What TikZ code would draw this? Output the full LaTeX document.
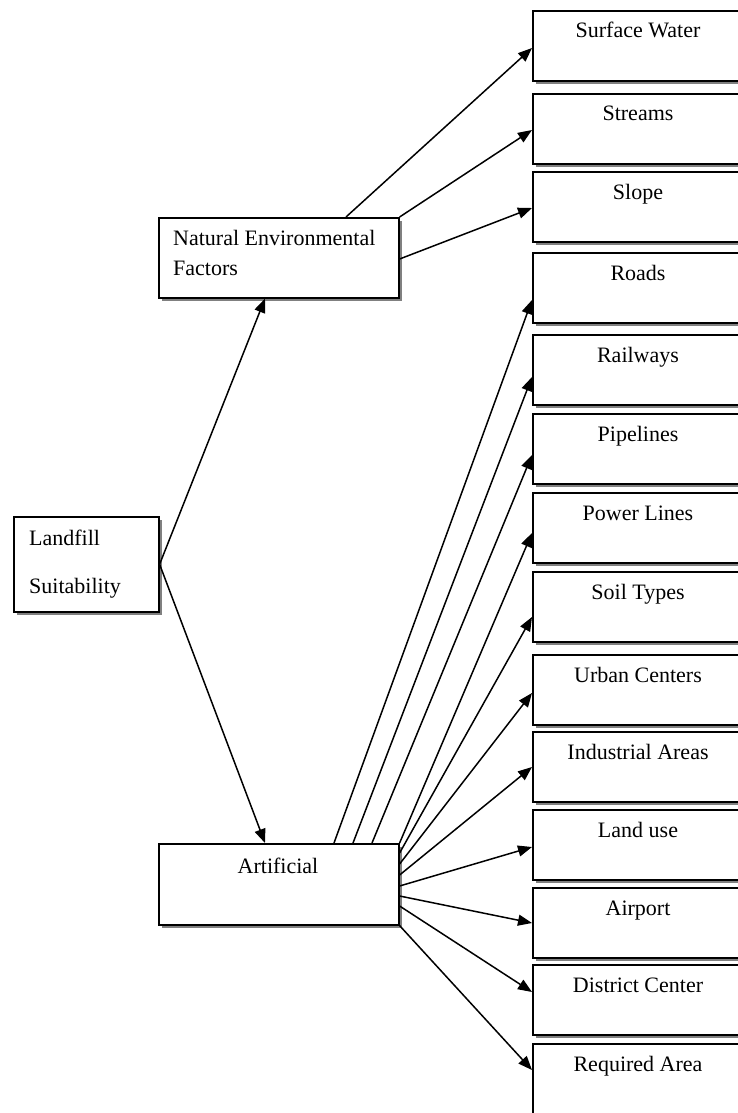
\documentclass[tikz,border=0pt]{standalone}
\usepackage{fontspec}
\setmainfont{Liberation Serif}
\usetikzlibrary{arrows.meta,shadows,calc}
\begin{document}
\begin{tikzpicture}[x=1pt,y=-1pt,
  box/.style={draw,line width=1.6pt,fill=white,inner sep=0pt,
    drop shadow={shadow xshift=3.5pt,shadow yshift=-3.5pt,fill=black!50,opacity=1}},
  rbox/.style={box,minimum width=213pt,minimum height=70pt,anchor=north west},
  lbl/.style={font=\fontsize{22}{26}\selectfont,inner sep=0pt,anchor=base},
  arr/.style={line width=1.5pt,-{Triangle[length=14pt,width=11pt]}}]
\path[use as bounding box,clip] (0,0) rectangle (738,1113);
\fill[white] (0,0) rectangle (738,1113);

% left boxes
\node[box,minimum width=145pt,minimum height=95pt,anchor=north west] (land) at (13,516) {};
\node[box,minimum width=240pt,minimum height=80pt,anchor=north west] (nat) at (158,217) {};
\node[box,minimum width=240pt,minimum height=81pt,anchor=north west] (art) at (158,843) {};
\node[lbl,anchor=base west] (tland1) at (29,545) {Landfill};
\node[lbl,anchor=base west] (tland2) at (29,593) {Suitability};
\node[lbl,anchor=base west] (tnat1) at (173,245) {Natural Environmental};
\node[lbl,anchor=base west] (tnat2) at (173,275) {Factors};
\node[lbl] (tart) at (278,873) {Artificial};

% right boxes
\foreach \t/\n/\s in {10/sw/Surface Water, 93/st/Streams, 171/sl/Slope,
  252/ro/Roads, 334/ra/Railways, 413/pi/Pipelines, 492/po/Power Lines,
  571/so/Soil Types, 654/ur/Urban Centers, 731/in/Industrial Areas,
  809/lu/Land use, 887/ai/Airport, 964/dc/District Center}{
  \node[rbox] (\n) at (532,\t) {};
  \node[lbl] (\n-t) at (638,\t+28) {\s};
}
\node[rbox,minimum height=76pt] (ra2) at (532,1043) {};
\node[lbl] (ra2-t) at (638,1071) {Required Area};

% connectors from Landfill
\draw[arr] (land.east) -- ($(nat.south west)+(107,0)$);
\draw[arr] (land.east) -- ($(art.north west)+(107,0)$);

% from Natural
\draw[arr] ($(nat.north west)+(188,0)$) -- ($(sw.north west)+(0,38)$);
\draw[arr] (nat.north east) -- ($(st.north west)+(0,37)$);
\draw[arr] ($(nat.north east)+(0,42)$) -- ($(sl.north west)+(0,37)$);

% from Artificial
\draw[arr] ($(art.north west)+(176,0)$) -- ($(ro.north west)+(0,48)$);
\draw[arr] ($(art.north west)+(195,0)$) -- ($(ra.north west)+(0,43)$);
\draw[arr] ($(art.north west)+(214,0)$) -- ($(pi.north west)+(0,42)$);
\draw[arr] (art.north east) -- ($(po.north west)+(0,41)$);
\draw[arr] ($(art.north east)+(0,10)$) -- ($(so.north west)+(0,46)$);
\draw[arr] ($(art.north east)+(0,21)$) -- ($(ur.north west)+(0,39)$);
\draw[arr] ($(art.north east)+(0,32)$) -- ($(in.north west)+(0,36)$);
\draw[arr] ($(art.north east)+(0,43)$) -- ($(lu.north west)+(0,38)$);
\draw[arr] ($(art.north east)+(0,53)$) -- ($(ai.north west)+(0,36)$);
\draw[arr] ($(art.north east)+(0,63)$) -- ($(dc.north west)+(0,28)$);
\draw[arr] (art.south east) -- ($(ra2.north west)+(0,27)$);
\end{tikzpicture}
\end{document}
